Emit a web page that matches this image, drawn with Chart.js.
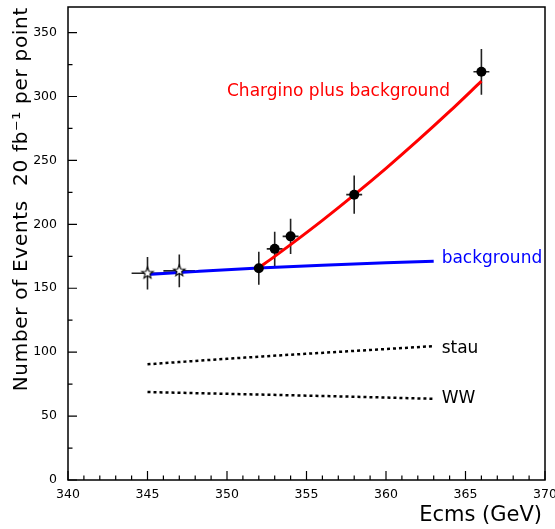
<!DOCTYPE html>
<html>
<head>
<meta charset="utf-8">
<script src="https://cdn.jsdelivr.net/npm/chart.js@4.4.1/dist/chart.umd.min.js"></script>
<style>
  html, body { margin: 0; padding: 0; background: #fff; }
</style>
</head>
<body>
<canvas id="chart" width="555" height="529"></canvas>
<script>
// ---- values ----
const bgX = [345, 348, 352, 356, 360, 363];
const bgY = [160.7, 163, 165.8, 168, 169.9, 171.1];

const charginoX = [352, 353, 354, 356, 358, 360, 362, 364, 366];
const charginoY = [166, 174.9, 184.1, 203.1, 223, 243.8, 265.6, 288.3, 312];

const stauX = [345, 349, 354, 359, 363];
const stauY = [90.5, 94, 98, 101.7, 104.7];

const wwX = [345, 350, 355, 360, 363];
const wwY = [68.8, 67.4, 66, 64.5, 63.5];

// open stars (below threshold) and filled dots, with errors
const starX = [345, 347];
const starY = [161.7, 163.6];
const starErrY = [12.7, 12.8];
const starErrX = [1, 1];

const dotX = [352, 353, 354, 358, 366];
const dotY = [165.6, 180.8, 190.6, 223.2, 319.3];
const dotErrY = [12.9, 13.4, 13.8, 14.9, 17.9];
const dotErrX = [0.5, 0.5, 0.5, 0.5, 0.5];

const xMajor = [340, 345, 350, 355, 360, 365, 370];
const yMajor = [0, 50, 100, 150, 200, 250, 300, 350];

const FONT = '"DejaVu Sans", sans-serif';

function toPoints(xs, ys) {
  return xs.map((x, i) => ({ x: x, y: ys[i] }));
}

// open five-point star marker
function makeStar(r) {
  const c = document.createElement('canvas');
  const s = Math.ceil(r * 2 + 4);
  c.width = s; c.height = s;
  const g = c.getContext('2d');
  g.beginPath();
  for (let i = 0; i < 10; i++) {
    const rad = i % 2 === 0 ? r : r * 0.42;
    const a = -Math.PI / 2 + i * Math.PI / 5;
    const px = s / 2 + rad * Math.cos(a), py = s / 2 + rad * Math.sin(a);
    if (i === 0) g.moveTo(px, py); else g.lineTo(px, py);
  }
  g.closePath();
  g.fillStyle = '#fff';
  g.fill();
  g.lineWidth = 1.1;
  g.strokeStyle = '#000';
  g.stroke();
  return c;
}

const decor = {
  id: 'decor',
  beforeDatasetsDraw(chart) {
    const { ctx, scales: { x, y } } = chart;
    ctx.save();
    ctx.strokeStyle = '#222';
    ctx.lineWidth = 1.6;
    const bars = (xs, ys, ex, ey) => {
      xs.forEach((v, i) => {
        const px = x.getPixelForValue(v), py = y.getPixelForValue(ys[i]);
        ctx.beginPath();
        ctx.moveTo(px, y.getPixelForValue(ys[i] - ey[i]));
        ctx.lineTo(px, y.getPixelForValue(ys[i] + ey[i]));
        ctx.moveTo(x.getPixelForValue(v - ex[i]), py);
        ctx.lineTo(x.getPixelForValue(v + ex[i]), py);
        ctx.stroke();
      });
    };
    bars(starX, starY, starErrX, starErrY);
    bars(dotX, dotY, dotErrX, dotErrY);
    ctx.restore();
  },
  afterDraw(chart) {
    const { ctx, chartArea: a, scales: { x, y } } = chart;
    ctx.save();
    ctx.strokeStyle = '#000';
    ctx.lineWidth = 1.5;
    ctx.strokeRect(a.left, a.top, a.right - a.left, a.bottom - a.top);

    // inward ticks
    ctx.lineWidth = 1.2;
    ctx.beginPath();
    for (let v = 340; v <= 370; v++) {
      const px = x.getPixelForValue(v);
      const len = v % 5 === 0 ? 9 : 4.5;
      ctx.moveTo(px, a.bottom);
      ctx.lineTo(px, a.bottom - len);
    }
    for (let v = 0; v <= 350; v += 25) {
      const py = y.getPixelForValue(v);
      const len = v % 50 === 0 ? 9 : 4.5;
      ctx.moveTo(a.left, py);
      ctx.lineTo(a.left + len, py);
    }
    ctx.stroke();

    // curve labels
    ctx.textBaseline = 'middle';
    ctx.textAlign = 'left';
    ctx.font = '17px ' + FONT;
    ctx.fillStyle = '#ff0000';
    ctx.fillText('Chargino plus background', x.getPixelForValue(350), y.getPixelForValue(304));
    ctx.fillStyle = '#0000ff';
    ctx.fillText('background', x.getPixelForValue(363.5), y.getPixelForValue(173));
    ctx.fillStyle = '#000';
    ctx.fillText('stau', x.getPixelForValue(363.5), y.getPixelForValue(103));
    ctx.fillText('WW', x.getPixelForValue(363.5), y.getPixelForValue(64));

    // axis titles
    ctx.font = '21px ' + FONT;
    ctx.textAlign = 'right';
    ctx.textBaseline = 'middle';
    ctx.fillText('Ecms (GeV)', 542, 516);

    ctx.translate(22, 7);
    ctx.rotate(-Math.PI / 2);
    ctx.font = '20px ' + FONT;
    ctx.letterSpacing = '0.7px';
    ctx.textAlign = 'right';
    ctx.fillText('Number of Events  20 fb\u207B\u00B9 per point', 0, 0);
    ctx.restore();
  }
};

const lineBase = { showLine: true, pointRadius: 0, fill: false, cubicInterpolationMode: 'monotone' };

new Chart(document.getElementById('chart'), {
  type: 'scatter',
  data: {
    datasets: [
      { label: 'data', data: toPoints(dotX, dotY), pointStyle: 'circle', pointRadius: 5,
        backgroundColor: '#000', borderColor: '#000', borderWidth: 0, order: 0 },
      { label: 'below threshold', data: toPoints(starX, starY), pointStyle: makeStar(6), pointRadius: 6,
        order: 0 },
      { ...lineBase, label: 'Chargino plus background', data: toPoints(charginoX, charginoY),
        borderColor: '#ff0000', borderWidth: 3, order: 1 },
      { ...lineBase, label: 'background', data: toPoints(bgX, bgY),
        borderColor: '#0000ff', borderWidth: 3, order: 2 },
      { ...lineBase, label: 'stau', data: toPoints(stauX, stauY),
        borderColor: '#000', borderWidth: 2.5, borderDash: [3, 3], order: 3 },
      { ...lineBase, label: 'WW', data: toPoints(wwX, wwY),
        borderColor: '#000', borderWidth: 2.5, borderDash: [3, 3], order: 3 }
    ]
  },
  options: {
    responsive: false,
    animation: false,
    layout: { padding: { left: 0, right: 10, top: 5, bottom: 0 } },
    plugins: { legend: { display: false }, tooltip: { enabled: false } },
    scales: {
      x: {
        type: 'linear', min: 340, max: 370,
        grid: { display: false, drawTicks: false }, border: { display: false },
        afterBuildTicks: s => { s.ticks = xMajor.map(v => ({ value: v })); },
        afterFit: s => { s.height = 49; s.paddingLeft = 0; s.paddingRight = 0; },
        ticks: { color: '#000', padding: 7, maxRotation: 0, autoSkip: false, font: { family: FONT, size: 12.5 } }
      },
      y: {
        type: 'linear', min: 0, max: 370,
        grid: { display: false, drawTicks: false }, border: { display: false },
        afterBuildTicks: s => { s.ticks = yMajor.map(v => ({ value: v })); },
        afterFit: s => { s.width = 68; s.paddingTop = 0; s.paddingBottom = 0; },
        ticks: { color: '#000', padding: 11, autoSkip: false, font: { family: FONT, size: 12.5 } }
      }
    }
  },
  plugins: [decor]
});
</script>
</body>
</html>
